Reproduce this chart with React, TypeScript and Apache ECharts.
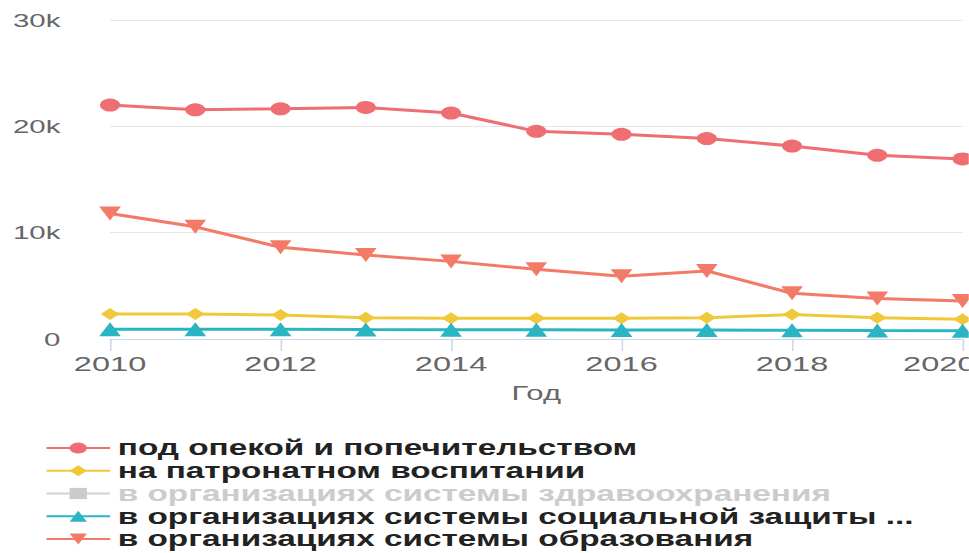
import React, { useEffect, useRef } from 'react';
import * as echarts from 'echarts';

const years = ['2010', '2011', '2012', '2013', '2014', '2015', '2016', '2017', '2018', '2019', '2020'];
const guardianship = [22000, 21550, 21650, 21780, 21250, 19530, 19250, 18850, 18150, 17280, 16930];
const foster = [2350, 2350, 2250, 2000, 1940, 1950, 1950, 2000, 2300, 2000, 1850];
const health = [1300, 1250, 1200, 1150, 1100, 1050, 1000, 950, 900, 850, 800];
const social = [920, 910, 910, 890, 880, 870, 850, 840, 830, 800, 780];
const education = [11800, 10550, 8620, 7900, 7300, 6550, 5900, 6400, 4300, 3800, 3570];

const seriesNames = [
  'под опекой и попечительством',
  'на патронатном воспитании',
  'в организациях системы здравоохранения',
  'в организациях системы социальной защиты населения',
  'в организациях системы образования',
];

const SX = 1.55;
const BASE_W = 625;
const BASE_H = 553;
const FONT = 'Liberation Sans, Arial, sans-serif';

export default function App() {
  const ref = useRef<HTMLDivElement>(null);
  useEffect(() => {
    if (!ref.current) return;
    const chart = echarts.init(ref.current, undefined, { renderer: 'svg' });
    const mk = (name: string, data: number[], color: string, symbol: string, size: number) => ({
      name,
      type: 'line',
      data,
      symbol,
      symbolSize: size,
      showSymbol: true,
      lineStyle: { width: 3, color },
      itemStyle: { color },
      emphasis: { disabled: true },
    });
    const lastYear = years[years.length - 1];
    chart.setOption({
      animation: false,
      backgroundColor: '#ffffff',
      grid: { left: 71, right: 4, top: 20, bottom: 214, containLabel: false, outerBoundsMode: 'none' },
      legend: {
        orient: 'vertical',
        left: 29,
        top: 437,
        height: 140,
        padding: 0,
        itemWidth: 41,
        itemHeight: 14,
        itemGap: 0.75,
        inactiveColor: '#cccccc',
        selected: { [seriesNames[2]]: false },
        textStyle: { fontSize: 21.5, fontWeight: 'bold', color: '#222222', fontFamily: FONT, lineHeight: 20 },
        formatter: (name: string) => (name.length > 40 ? name.slice(0, 40) + ' ...' : name),
      },
      xAxis: {
        type: 'category',
        data: years,
        boundaryGap: false,
        name: 'Год',
        nameLocation: 'middle',
        nameGap: 44,
        nameTextStyle: { fontSize: 20, color: '#666666', fontFamily: FONT },
        axisLine: { lineStyle: { color: '#ccd6eb', width: 1 } },
        axisTick: { show: true, interval: 1, length: 12, lineStyle: { color: '#ccd6eb' } },
        axisLabel: {
          interval: 1,
          fontSize: 21,
          color: '#666666',
          margin: 14,
          fontFamily: FONT,
          formatter: (v: string) => (v === lastYear ? '{l|' + v + '}' : v),
          rich: { l: { fontSize: 21, color: '#666666', fontFamily: FONT, padding: [0, 30, 0, 0] } },
        },
        splitLine: { show: false },
      },
      yAxis: {
        type: 'value',
        min: 0,
        max: 30000,
        interval: 10000,
        axisLine: { show: false },
        axisTick: { show: false },
        splitLine: { lineStyle: { color: '#e6e6e6', width: 1 } },
        axisLabel: {
          fontSize: 19,
          color: '#666666',
          margin: 32,
          padding: [8, 0, 0, 0],
          fontFamily: FONT,
          formatter: (v: number) => (v === 0 ? '0' : v / 1000 + 'k'),
        },
      },
      series: [
        mk(seriesNames[0], guardianship, '#ee6e73', 'circle', 13),
        mk(seriesNames[1], foster, '#f0c83a', 'diamond', 12),
        mk(seriesNames[2], health, '#b0b0b0', 'rect', 11),
        mk(seriesNames[3], social, '#2bb5c2', 'triangle', 14),
        mk(seriesNames[4], education, '#f47a68', 'path://M0,0 L10,0 L5,9 Z', 14),
      ],
    });
    return () => chart.dispose();
  }, []);
  return (
    <div
      style={{
        position: 'fixed',
        left: 0,
        top: 0,
        width: BASE_W,
        height: BASE_H,
        transform: `scaleX(${SX})`,
        transformOrigin: '0 0',
      }}
    >
      <div ref={ref} style={{ width: BASE_W, height: BASE_H }} />
    </div>
  );
}
